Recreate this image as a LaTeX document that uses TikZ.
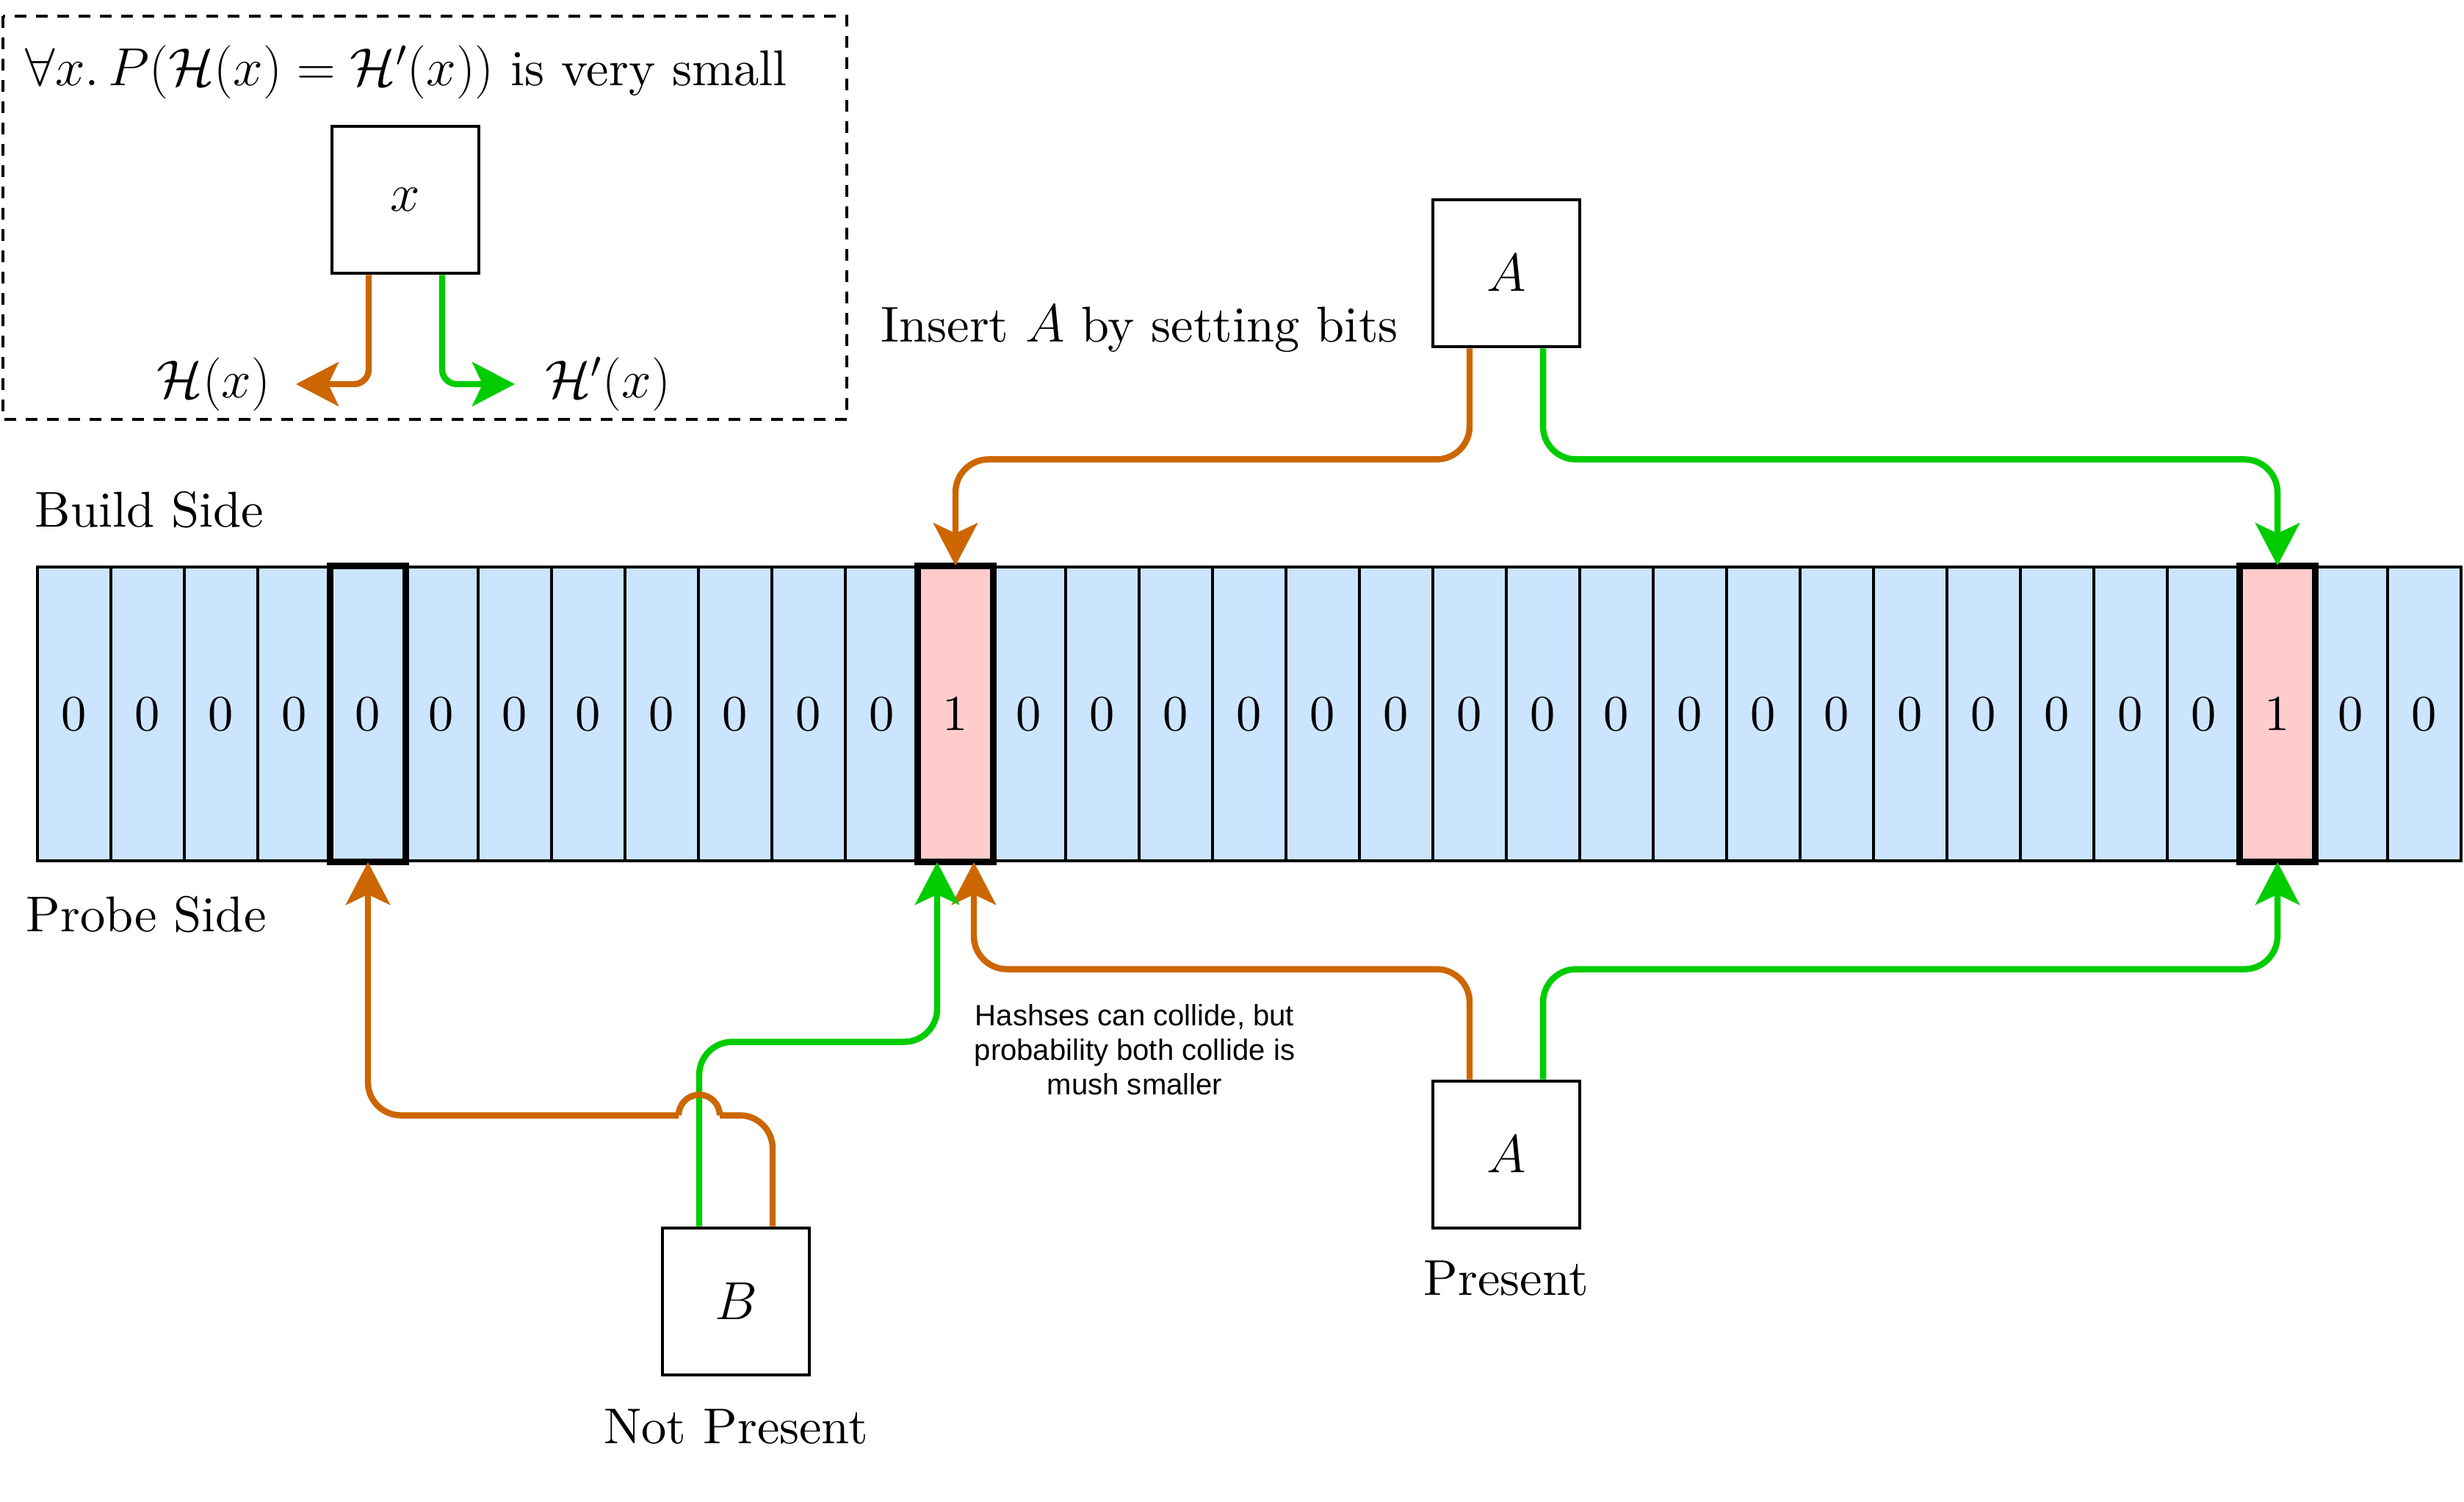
\documentclass[tikz,border=0pt]{standalone}
\usepackage{fontspec}
\setmainfont{lmroman10-regular.otf}[ItalicFont=lmroman10-italic.otf,BoldFont=lmroman10-bold.otf]
\newfontfamily\notefont{Liberation Sans}
\usetikzlibrary{arrows.meta}
\definecolor{bitblue}{HTML}{CCE5FF}
\definecolor{bitpink}{HTML}{FFCCCC}
\definecolor{hashone}{HTML}{CC6600}
\definecolor{hashtwo}{HTML}{00CC00}

\begin{document}
\begin{tikzpicture}[>={Stealth[length=5.8mm,width=6mm,inset=1.4mm]},
  every node/.style={font=\fontsize{19.5}{23}\selectfont},
  box/.style={draw,line width=1.4pt,minimum size=2cm,inner sep=0pt},
  cell/.style={draw,line width=1pt,minimum width=1cm,minimum height=4cm,inner sep=0pt},
  cell0/.style={cell,fill=bitblue},
  cell1/.style={cell,fill=bitpink},
  lbl/.style={inner sep=0pt},
  h1/.style={->,draw=hashone,line width=2.4pt,rounded corners=4.5mm},
  h2/.style={->,draw=hashtwo,line width=2.4pt,rounded corners=4.5mm}]

\useasboundingbox (0,0) rectangle (33.55,-20.45);

% legend
\draw[line width=1.1pt,dash pattern=on 1.6mm off 1.3mm] (0.04,-0.22) rectangle (11.53,-5.71);
\node[lbl,anchor=base west] (formula) at (0.34,-1.17) {$\forall x.\,P(\mathcal{H}(x) = \mathcal{H}'(x))$ is very small};
\node[box] (xb) at (5.52,-2.72) {$x$};
\node[lbl,anchor=east,inner xsep=3.4mm] (hx) at (4.03,-5.23) {$\mathcal{H}(x)$};
\node[lbl,anchor=west,inner xsep=4.1mm] (hpx) at (7.01,-5.23) {$\mathcal{H}'(x)$};
\draw[h1,rounded corners=2mm] ([xshift=-5mm]xb.south) |- (hx.east);
\draw[h2,rounded corners=2mm] ([xshift=5mm]xb.south) |- (hpx.west);

% the bits
\foreach \b [count=\i from 0] in {0,0,0,0,0,0,0,0,0,0,0,0,1,0,0,0,0,0,0,0,0,0,0,0,0,0,0,0,0,0,1,0,0}
  \node[cell\b] (c\i) at ({1.01+\i},-9.72) {\b};
\foreach \i in {4,12,30}
  \draw[line width=2.5pt] (c\i.north west) rectangle (c\i.south east);

\node[lbl,anchor=base west] (build) at (0.47,-7.18) {Build Side};
\node[lbl,anchor=base west] (probe) at (0.35,-12.68) {Probe Side};
\node[lbl,anchor=base west] (insert) at (11.99,-4.66) {Insert $A$ by setting bits};

\node[box] (At) at (20.51,-3.72) {$A$};
\node[box] (Ab) at (20.51,-15.72) {$A$};
\node[box] (B) at (10.02,-17.72) {$B$};
\node[lbl,anchor=base] (pres) at (20.51,-17.63) {Present};
\node[lbl,anchor=base] (npres) at (10.02,-19.65) {Not Present};

\node[align=center,font=\notefont\fontsize{11.4}{13.4}\selectfont] (note) at (15.45,-14.29)
  {Hashses can collide, but\\probability both collide is\\mush smaller};

% insert A
\draw[h1] ([xshift=-5mm]At.south) -- ++(0,-1.51) -| (c12.north);
\draw[h2] ([xshift=5mm]At.south) -- ++(0,-1.51) -| (c30.north);
% probe A
\draw[h1] ([xshift=-5mm]Ab.north) -- ++(0,1.5) -| ([xshift=2.5mm]c12.south);
\draw[h2] ([xshift=5mm]Ab.north) -- ++(0,1.5) -| (c30.south);
% probe B, orange jumps over green
\draw[h2] ([xshift=-5mm]B.north) -- ++(0,2.51) -| ([xshift=-2.5mm]c12.south);
\coordinate (jr) at ([xshift=-2.2mm,yshift=15.1mm]B.north);
\coordinate (jl) at ([xshift=-7.8mm,yshift=15.1mm]B.north);
\draw[h1,-] ([xshift=5mm]B.north) |- (jr);
\draw[h1,-,sharp corners] (jr) arc[start angle=0,end angle=180,radius=2.8mm];
\draw[h1] (jl) -| (c4.south);

\end{tikzpicture}
\end{document}
